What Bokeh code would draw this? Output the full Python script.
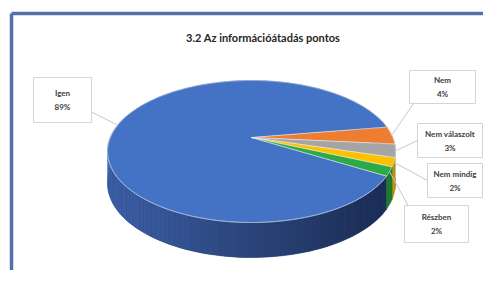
import numpy as np
from bokeh.plotting import figure
from bokeh.models import Range1d
from bokeh.core.properties import value
from bokeh.embed import file_html
from bokeh.resources import INLINE

# ---- data ----
title = "3.2  Az információátadás pontos"
categories = ["Igen", "Nem", "Nem válaszolt", "Nem mindig", "Részben"]
values = [89, 4, 3, 2, 2]
colors = ["#4472C4", "#ED7D31", "#A5A5A5", "#FFC000", "#2BAA45"]
side_colors = ["#2a4580", "#b35a1f", "#7a7a7a", "#c29000", "#1d7a30"]

# ---- layout (styling / positions) ----
CX, CY, RX, RY, A = 251.0, 151.0, 144.0, 71.0, -0.197
START_DEG = 30.6          # first slice starts here (screen, clockwise from 3 o'clock)
# label boxes: (left, right, top, bottom), leader end point
boxes = [
    ((33, 91, 77, 122), (88, 110)),
    ((409, 475, 70, 103), (413, 103)),
    ((417, 482, 123, 157), (417, 140)),
    ((427, 482, 163, 197), (427, 180)),
    ((404, 468, 205, 242), (408, 206)),
]

W, H = 483, 270
p = figure(width=W, height=H, output_backend="svg", toolbar_location=None,
           x_range=Range1d(0, W), y_range=Range1d(H, 0),
           min_border=0, title=None)
p.axis.visible = False
p.grid.visible = False
p.outline_line_color = None
p.background_fill_color = "white"
p.border_fill_color = "white"

def depth(t):
    return 31.0 + 4.0 * np.sin(t)

def proj(t, down=False):
    s, c = np.sin(t), np.cos(t)
    x = CX + RX * np.sqrt(1 - A * A) * c / (1 + A * s)
    y = CY + RY * (s + A) / (1 + A * s)
    if down:
        y = y + depth(t)
    return x, y

# frame
p.segment(x0=[11, 11], y0=[13, 13], x1=[11, W + 5], y1=[H + 5, 13],
          line_color="#5470a8", line_width=3.5)

# slice angles
vals = np.array(values, dtype=float)
fr = vals / vals.sum() * 2 * np.pi
starts = np.deg2rad(START_DEG) + np.concatenate([[0], np.cumsum(fr)[:-1]])
ends = starts + fr

def lerp(c1, c2, f):
    a = np.array([int(c1[i:i + 2], 16) for i in (1, 3, 5)])
    b = np.array([int(c2[i:i + 2], 16) for i in (1, 3, 5)])
    r = (a + (b - a) * f).astype(int)
    return "#%02x%02x%02x" % tuple(r)

# side walls
for i in range(len(values)):
    n = max(4, int(np.degrees(fr[i]) / 2.0))
    ts = np.linspace(starts[i], ends[i], n + 1)
    tx, ty = proj(ts)
    bx, by = proj(ts, True)
    p.patch(np.concatenate([tx, bx[::-1]]), np.concatenate([ty, by[::-1]]),
            fill_color=side_colors[i], line_color=side_colors[i], line_width=0.5)
    if i == 0:
        xs, ys, cs = [], [], []
        for j in range(n):
            t0, t1 = ts[j], ts[j + 1]
            if np.sin((t0 + t1) / 2) < -0.3:
                continue
            x0, y0 = proj(t0)
            x1, y1 = proj(t1)
            x0b, y0b = proj(t0, True)
            x1b, y1b = proj(t1, True)
            xs.append([x0, x1, x1b, x0b])
            ys.append([y0, y1, y1b, y0b])
            f = np.clip((x0 - (CX - RX)) / (2 * RX), 0, 1)
            cs.append(lerp("#3d60a6", "#1a2a50", f))
        p.patches(xs, ys, fill_color=cs, line_color=None)

# top faces
ax, ay = CX, CY + RY * A
for i in range(len(values)):
    ts = np.linspace(starts[i], ends[i], max(6, int(np.degrees(fr[i]) / 1.0)))
    rx_, ry_ = proj(ts)
    xs = np.concatenate([[ax], rx_])
    ys = np.concatenate([[ay], ry_])
    p.patch(xs, ys, fill_color=colors[i], line_color="#e8eef8", line_width=0.7,
            line_alpha=0.7)

# front rim highlight
tf = np.linspace(np.deg2rad(32), np.deg2rad(190), 200)
fx, fy = proj(tf)
p.line(fx, fy, line_color="#9fb4dc", line_width=1.0, line_alpha=0.7)

# labels
mids = (starts + ends) / 2
for i, cat in enumerate(categories):
    (l, r, t, b), (ex, ey) = boxes[i]
    mx, my = proj(np.array([mids[i]]))
    p.line([mx[0], ex], [my[0], ey], line_color="#c8c8c8", line_width=1)
    p.quad(left=l, right=r, top=t, bottom=b, fill_color="white",
           line_color="#d4d4d4", line_width=1)
    cxm = (l + r) / 2
    cym = (t + b) / 2
    pct = f"{int(round(values[i] / vals.sum() * 100))}%"
    p.text([cxm, cxm], [cym - 7, cym + 7], text=[cat, pct], text_align="center",
           text_baseline="middle", text_font=value("Lato"), text_font_size="8px",
           text_font_style="bold", text_color="#404040")

p.text([264], [37], text=[title], text_align="center", text_baseline="middle",
       text_font=value("Lato"), text_font_size="11px", text_font_style="bold",
       text_color="#262626")

open("out.html", "w").write(file_html(p, INLINE))
